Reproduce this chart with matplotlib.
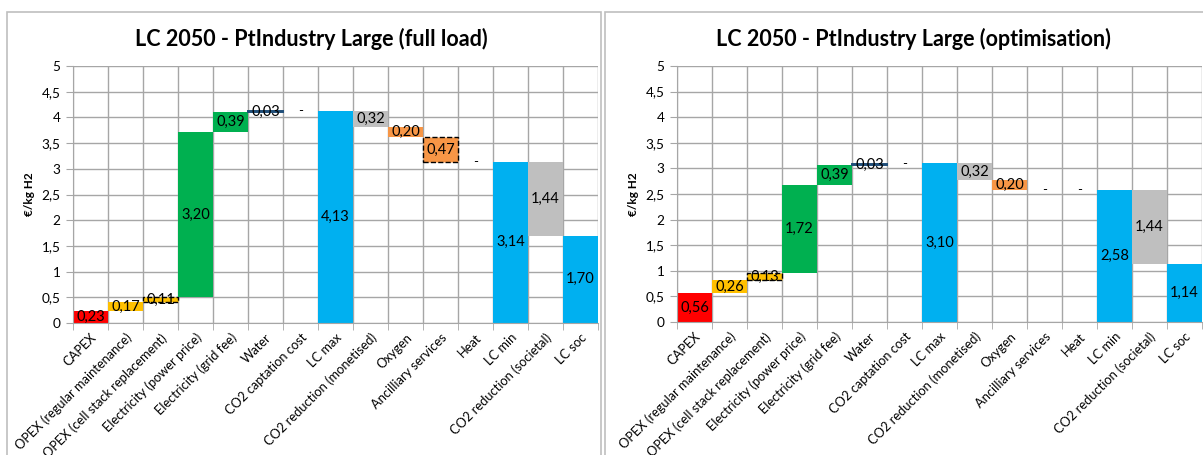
import matplotlib

matplotlib.use("Agg")
import matplotlib.pyplot as plt
from matplotlib.patches import Rectangle
from matplotlib.ticker import FixedLocator, FuncFormatter

plt.rcParams["font.family"] = ["Lato", "DejaVu Sans"]

categories = [
    "CAPEX",
    "OPEX (regular maintenance)",
    "OPEX (cell stack replacement)",
    "Electricity (power price)",
    "Electricity (grid fee)",
    "Water",
    "CO2 captation cost",
    "LC max",
    "CO2 reduction (monetised)",
    "Oxygen",
    "Ancilliary services",
    "Heat",
    "LC min",
    "CO2 reduction (societal)",
    "LC soc",
]
# step kind: "up" adds to running level, "down" subtracts, "total" is a full bar
kinds = ["up", "up", "up", "up", "up", "up", "up", "total",
         "down", "down", "down", "down", "total", "down", "total"]
# None = no contribution, shown as "-"
values_full = [0.23, 0.17, 0.11, 3.20, 0.39, 0.03, None, 4.13,
               0.32, 0.20, 0.47, None, 3.14, 1.44, 1.70]
values_opt = [0.56, 0.26, 0.13, 1.72, 0.39, 0.03, None, 3.10,
              0.32, 0.20, None, None, 2.58, 1.44, 1.14]

titles = ["LC 2050 - PtIndustry Large (full load)",
          "LC 2050 - PtIndustry Large (optimisation)"]

RED, YEL, GRN, BLU, GRY, ORG, NAVY = ("#FF0000", "#FFC000", "#00B050", "#00B0F0",
                                      "#BFBFBF", "#F79646", "#1F4E79")
colors = [RED, YEL, YEL, GRN, GRN, NAVY, "none", BLU, GRY, ORG, ORG, "none", BLU, GRY, BLU]
dashed = {2, 10}
GRID = "#A6A6A6"

W, H = 1203, 455
fig = plt.figure(figsize=(W / 100, H / 100), dpi=100)

# panel frames
panels = [(7, 601), (605, 1210)]
for x0, x1 in panels:
    fig.patches.append(Rectangle((x0 / W, -0.05), (x1 - x0) / W, 1.05 - 12 / H,
                                 transform=fig.transFigure, fill=False,
                                 edgecolor="#BFBFBF", linewidth=1.2))


def waterfall(ax, values):
    level = 0.0
    n = len(categories)
    for i, (v, k) in enumerate(zip(values, kinds)):
        if v is None:
            ax.text(i + 0.5, level, "-", ha="center", va="center", fontsize=9.5)
            continue
        if k == "total":
            bottom, top = 0.0, v
            level = v
        elif k == "up":
            bottom, top = level, level + v
            level = top
        else:
            bottom, top = level - v, level
            level = bottom
        kw = dict(color=colors[i], width=1.0, align="edge", zorder=2, linewidth=0)
        if i in dashed:
            kw.update(edgecolor="black", linestyle="--", linewidth=1.0)
        if categories[i] == "Water":
            kw.update(edgecolor=NAVY, linewidth=1.4)
        ax.bar(i, top - bottom, bottom=bottom, **kw)
        ax.text(i + 0.5, (top + bottom) / 2, f"{v:.2f}".replace(".", ","),
                ha="center", va="center", fontsize=10.5, zorder=3)

    ax.set_xlim(0, n)
    ax.set_ylim(0, 5)
    ax.set_yticks([i * 0.5 for i in range(11)])
    ax.yaxis.set_major_formatter(FuncFormatter(lambda y, _: f"{y:g}".replace(".", ",")))
    ax.set_xticks([i + 0.5 for i in range(n)])
    ax.set_xticklabels(categories, rotation=45, ha="right", rotation_mode="anchor", fontsize=9.3)
    ax.xaxis.set_minor_locator(FixedLocator(range(n + 1)))
    ax.tick_params(axis="x", which="major", length=0, pad=6)
    ax.tick_params(axis="x", which="minor", length=5, color=GRID)
    ax.tick_params(axis="y", length=5, color=GRID, labelsize=9.8, pad=4)
    ax.grid(axis="y", which="major", color=GRID, linewidth=1, zorder=0)
    ax.grid(axis="x", which="minor", color=GRID, linewidth=1, zorder=0)
    ax.set_axisbelow(True)
    for s in ("top", "right"):
        ax.spines[s].set_visible(False)
    for s in ("left", "bottom"):
        ax.spines[s].set_color(GRID)
    ax.set_ylabel("€/kg H2", fontsize=8.5, fontweight="bold")
    ax.yaxis.set_label_coords(-0.072, 0.5)


ax1 = fig.add_axes([73 / W, 1 - 323 / H, 525 / W, 257 / H])
ax2 = fig.add_axes([677 / W, 1 - 322 / H, 525 / W, 256 / H])
waterfall(ax1, values_full)
waterfall(ax2, values_opt)

for (x0, x1), t, xc in zip(panels, titles, [311, 913]):
    fig.text(xc / W, 1 - 39 / H, t, ha="center", va="center",
             fontsize=15.5, fontweight="bold")

fig.savefig("out.png", dpi=100)
